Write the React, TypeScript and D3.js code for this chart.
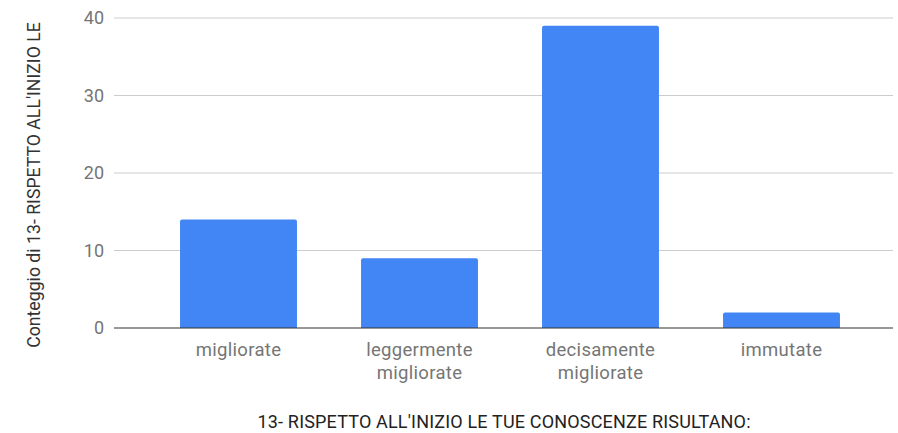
import React from "react";
import * as d3 from "d3";

const categories: string[] = ["migliorate", "leggermente migliorate", "decisamente migliorate", "immutate"];
const categoryLines: string[][] = [["migliorate"], ["leggermente", "migliorate"], ["decisamente", "migliorate"], ["immutate"]];
const values: number[] = [14, 9, 39, 2];
const yTicks: number[] = [0, 10, 20, 30, 40];
const xTitle = "13- RISPETTO ALL'INIZIO LE TUE CONOSCENZE RISULTANO:";
const yTitle = "Conteggio di 13- RISPETTO ALL'INIZIO LE";

const W = 898;
const H = 433;
const plotLeft = 114;
const plotRight = 893;

export default function App() {
  const x = d3.scaleBand<string>().domain(categories).range([148, 872]).paddingInner(0.354).paddingOuter(0.177);
  const y = d3.scaleLinear().domain([0, 40]).range([328, 18]);
  const font = "Roboto, 'Noto Sans', Arial, sans-serif";
  const r = 2;
  const barPath = (x0: number, w: number, y0: number, y1: number) => {
    const p = d3.path();
    p.moveTo(x0, y0);
    p.lineTo(x0, y1 + r);
    p.quadraticCurveTo(x0, y1, x0 + r, y1);
    p.lineTo(x0 + w - r, y1);
    p.quadraticCurveTo(x0 + w, y1, x0 + w, y1 + r);
    p.lineTo(x0 + w, y0);
    p.closePath();
    return p.toString();
  };
  return (
    <svg width={W} height={H} style={{ position: "absolute", left: 0, top: 0, background: "#fff" }} fontFamily={font}>
      {yTicks.filter((t) => t !== 0).map((t) => (
        <line key={t} x1={plotLeft} x2={plotRight} y1={y(t)} y2={y(t)} stroke="#cccccc" strokeWidth={1} />
      ))}
      {yTicks.map((t) => (
        <text key={"l" + t} x={104} y={y(t)} dy="0.36em" textAnchor="end" fontSize={18} fill="#757575">
          {t}
        </text>
      ))}
      {categories.map((c, i) => (
        <path key={c} d={barPath(x(c)!, x.bandwidth(), y(0), y(values[i]))} fill="#4285f4" />
      ))}
      <line x1={plotLeft} x2={plotRight} y1={y(0)} y2={y(0)} stroke="#333333" strokeWidth={1.2} />
      {categories.map((c, i) => (
        <text key={"c" + c} x={x(c)! + x.bandwidth() / 2} textAnchor="middle" fontSize={18.5} fill="#757575" letterSpacing={0.3}>
          {categoryLines[i].map((ln, j) => (
            <tspan key={j} x={x(c)! + x.bandwidth() / 2} y={356 + j * 23}>
              {ln}
            </tspan>
          ))}
        </text>
      ))}
      <text x={504} y={428} textAnchor="middle" fontSize={18} fill="#222222" textLength={493} lengthAdjust="spacing">
        {xTitle}
      </text>
      <text transform={`translate(40,185) rotate(-90)`} textAnchor="middle" fontSize={17.7} fill="#333333">
        {yTitle}
      </text>
    </svg>
  );
}
